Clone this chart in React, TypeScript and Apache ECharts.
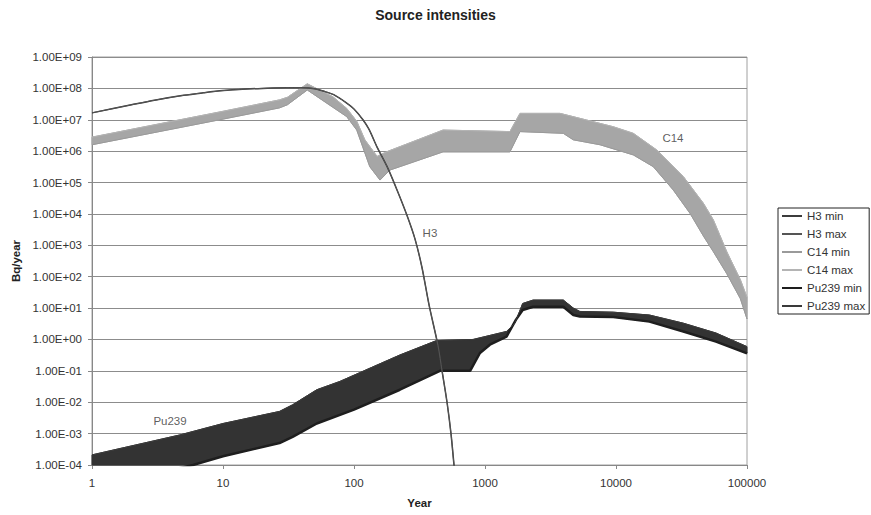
import React, { useEffect, useRef } from "react";
import * as echarts from "echarts";

const FONT = "'Liberation Sans', Arial, Helvetica, sans-serif";

// H3 (min and max coincide on the chart)
const h3Years = [1, 2, 3, 5, 7, 10, 15, 20, 30, 40, 50, 60, 70, 88, 100, 117, 130, 150, 179, 213, 254, 292, 330, 374, 438, 470, 513, 550, 580, 600];
const h3MinValues = [1.66e7, 3.0e7, 4.2e7, 6.0e7, 7.2e7, 8.5e7, 9.5e7, 1.0e8, 1.05e8, 1.05e8, 9.8e7, 7.9e7, 6.3e7, 3.4e7, 2.2e7, 1.0e7, 5.0e6, 1.35e6, 3.2e5, 5.8e4, 8.9e3, 1.6e3, 200, 12.6, 0.63, 0.1, 0.01, 1e-3, 1e-4, 2.5e-5];
const h3MaxValues = [1.66e7, 3.0e7, 4.2e7, 6.0e7, 7.2e7, 8.5e7, 9.5e7, 1.0e8, 1.05e8, 1.05e8, 9.8e7, 7.9e7, 6.3e7, 3.4e7, 2.2e7, 1.0e7, 5.0e6, 1.35e6, 3.2e5, 5.8e4, 8.9e3, 1.6e3, 200, 12.6, 0.63, 0.1, 0.01, 1e-3, 1e-4, 2.5e-5];

// C14
const c14MinYears = [1, 10, 27, 31, 44, 69, 88, 105, 132, 158, 188, 478, 1550, 1850, 3960, 4720, 7550, 13550, 19270, 27350, 36700, 46400, 55300, 70000, 89000, 100000];
const c14MinValues = [1.6e6, 1.05e7, 2.4e7, 3.0e7, 8.9e7, 2.5e7, 1.26e7, 4.7e6, 3.2e5, 1.2e5, 2.5e5, 9.5e5, 9.5e5, 4.2e6, 3.7e6, 2.3e6, 1.6e6, 7.6e5, 3.2e5, 5.8e4, 1.05e4, 2.0e3, 630, 126, 20, 4.5];
const c14MaxYears = [1, 10, 27, 31, 44, 69, 88, 105, 121, 150, 177, 478, 1550, 1850, 3740, 5970, 9530, 13550, 20400, 32650, 46400, 55300, 70000, 89000, 100000];
const c14MaxValues = [2.8e6, 1.86e7, 4.3e7, 5.2e7, 1.4e8, 5.4e7, 2.3e7, 8.9e6, 2.3e6, 6.8e5, 9.5e5, 4.7e6, 4.2e6, 1.6e7, 1.6e7, 9.8e6, 6.0e6, 3.7e6, 1.1e6, 1.55e5, 2.2e4, 6.5e3, 630, 80, 22];

// Pu239
const puMinYears = [1, 5.9, 10, 27, 34, 52, 100, 224, 453, 770, 915, 1090, 1460, 1720, 1940, 2330, 3960, 4720, 5300, 9530, 18000, 32650, 58000, 100000];
const puMinValues = [1.8e-5, 1.0e-4, 1.9e-4, 5.0e-4, 7.9e-4, 2.1e-3, 5.8e-3, 2.5e-2, 0.1, 0.1, 0.37, 0.68, 1.23, 4.2, 8.7, 11, 11, 6.0, 5.4, 5.2, 3.7, 1.8, 0.85, 0.36];
const puMaxYears = [1, 4.7, 10, 27, 34, 52, 78, 224, 426, 811, 1460, 1690, 1940, 2330, 3960, 4720, 5300, 9530, 18000, 32650, 58000, 100000];
const puMaxValues = [2.1e-4, 9.1e-4, 2.1e-3, 5.1e-3, 8.3e-3, 2.5e-2, 4.6e-2, 0.32, 0.92, 1.0, 1.8, 3.3, 14, 18, 18, 10, 7.8, 7.4, 6.0, 3.3, 1.6, 0.59];

// in-plot labels
const labelTexts = ["H3", "C14", "Pu239"];
const labelYears = [380, 27200, 3.94];
const labelValues = [2.5e3, 2.6e6, 2.6e-3];

const legendNames = ["H3 min", "H3 max", "C14 min", "C14 max", "Pu239 min", "Pu239 max"];

const C14_COLOR = "#a6a6a6";
const PU_COLOR = "#333333";

const pairs = (xs: number[], ys: number[]) => xs.map((x, i) => [x, ys[i]]);

function bandRenderer(lx: number[], ly: number[], hx: number[], hy: number[], color: string) {
  return (params: any, api: any) => {
    const cs = params.coordSys;
    const clamp = (p: number[]) => [
      Math.min(Math.max(p[0], cs.x), cs.x + cs.width),
      Math.min(Math.max(p[1], cs.y), cs.y + cs.height),
    ];
    const pts: number[][] = [];
    for (let i = 0; i < lx.length; i++) pts.push(clamp(api.coord([lx[i], ly[i]])));
    for (let i = hx.length - 1; i >= 0; i--) pts.push(clamp(api.coord([hx[i], hy[i]])));
    return {
      type: "polygon",
      shape: { points: pts },
      style: { fill: color, stroke: color, lineWidth: 1 },
    };
  };
}

const expLabel = (v: number) => {
  const e = Math.round(Math.log10(v));
  return `1.00E${e < 0 ? "-" : "+"}${String(Math.abs(e)).padStart(2, "0")}`;
};

export default function App() {
  const ref = useRef<HTMLDivElement>(null);
  useEffect(() => {
    if (!ref.current) return;
    const chart = echarts.init(ref.current, null, { renderer: "svg" });
    const lineSeries = (name: string, data: number[][], color: string, width: number, z: number, smooth: number | boolean = false) => ({
      name,
      type: "line",
      data,
      symbol: "none",
      showSymbol: false,
      smooth,
      z,
      lineStyle: { color, width },
      itemStyle: { color },
      clip: true,
    });
    chart.setOption({
      animation: false,
      backgroundColor: "#ffffff",
      textStyle: { fontFamily: FONT },
      title: {
        text: "Source intensities",
        left: "center",
        top: 8,
        padding: 0,
        textStyle: { fontSize: 14, fontWeight: "bold", color: "#222", fontFamily: FONT },
      },
      legend: {
        orient: "vertical",
        left: 778,
        top: 208,
        data: legendNames,
        itemWidth: 20,
        itemHeight: 12,
        itemGap: 6,
        padding: [2, 4, 2, 3],
        borderColor: "#222",
        borderWidth: 1,
        selectedMode: false,
        itemStyle: { color: "transparent", borderColor: "transparent", borderWidth: 0, opacity: 0 },
        textStyle: { fontSize: 11.5, color: "#333", fontFamily: FONT },
      },
      grid: {
        left: 92,
        right: 124,
        top: 57,
        bottom: 50,
        show: true,
        borderColor: "#a0a0a0",
        borderWidth: 1,
        backgroundColor: "transparent",
      },
      xAxis: {
        type: "log",
        logBase: 10,
        min: 1,
        max: 100000,
        interval: 1,
        name: "Year",
        nameLocation: "middle",
        nameGap: 32,
        nameTextStyle: { fontSize: 11.5, fontWeight: "bold", color: "#222", fontFamily: FONT },
        axisLine: { show: true, lineStyle: { color: "#888", width: 1 } },
        axisTick: { show: true, length: 4, lineStyle: { color: "#888" } },
        axisLabel: {
          margin: 12,
          fontSize: 11.5,
          color: "#333",
          fontFamily: FONT,
          formatter: (v: number) => String(Math.round(v)),
        },
        splitLine: { show: false },
        minorTick: { show: false },
      },
      yAxis: {
        type: "log",
        logBase: 10,
        min: 1e-4,
        max: 1e9,
        interval: 1,
        name: "Bq/year",
        nameLocation: "middle",
        nameGap: 70,
        nameTextStyle: { fontSize: 11.5, fontWeight: "bold", color: "#222", fontFamily: FONT },
        axisLine: { show: true, lineStyle: { color: "#888", width: 1 } },
        axisTick: { show: true, length: 4, lineStyle: { color: "#888" } },
        axisLabel: {
          margin: 10,
          fontSize: 11.5,
          color: "#333",
          fontFamily: FONT,
          formatter: expLabel,
        },
        splitLine: { show: true, lineStyle: { color: "#8c8c8c", width: 1 } },
        minorTick: { show: false },
      },
      series: [
        {
          name: "C14 band",
          type: "custom",
          coordinateSystem: "cartesian2d",
          data: [[1, 1]],
          z: 1,
          silent: true,
          renderItem: bandRenderer(c14MinYears, c14MinValues, c14MaxYears, c14MaxValues, C14_COLOR),
        },
        {
          name: "Pu239 band",
          type: "custom",
          coordinateSystem: "cartesian2d",
          data: [[1, 1]],
          z: 1,
          silent: true,
          renderItem: bandRenderer(puMinYears, puMinValues, puMaxYears, puMaxValues, PU_COLOR),
        },
        lineSeries("C14 min", pairs(c14MinYears, c14MinValues), "#9a9a9a", 1, 2),
        lineSeries("C14 max", pairs(c14MaxYears, c14MaxValues), "#b4b4b4", 1, 2),
        lineSeries("Pu239 min", pairs(puMinYears, puMinValues), "#1e1e1e", 2.5, 2),
        lineSeries("Pu239 max", pairs(puMaxYears, puMaxValues), "#3a3a3a", 1, 2),
        lineSeries("H3 min", pairs(h3Years, h3MinValues), "#3c3c3c", 1.5, 3, 0.3),
        lineSeries("H3 max", pairs(h3Years, h3MaxValues), "#555555", 1, 3, 0.3),
        {
          name: "labels",
          type: "scatter",
          data: labelYears.map((x, i) => [x, labelValues[i], labelTexts[i]]),
          symbolSize: 1,
          itemStyle: { color: "transparent" },
          silent: true,
          z: 4,
          label: {
            show: true,
            position: "inside",
            fontSize: 11.5,
            color: "#333",
            fontFamily: FONT,
            formatter: (p: any) => p.data[2],
          },
        },
      ],
    });
    return () => chart.dispose();
  }, []);
  return (
    <div
      ref={ref}
      style={{ position: "fixed", left: 0, top: 0, width: 871, height: 515, background: "#fff" }}
    />
  );
}
